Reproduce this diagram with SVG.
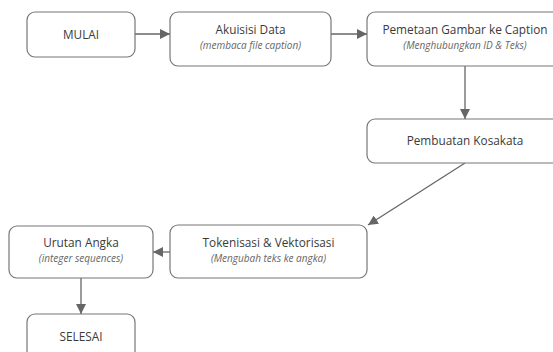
<svg xmlns="http://www.w3.org/2000/svg" width="553" height="352" viewBox="0 0 553 352">
<defs>
<marker id="arr" viewBox="0 0 10 10" refX="10" refY="5" markerWidth="10" markerHeight="10" markerUnits="userSpaceOnUse" orient="auto">
<path d="M0,0 L10,5 L0,10 z" fill="#666"/>
</marker>
<style>
.box{fill:#fff;stroke:#777;stroke-width:1.2}
.t{font-family:"Open Sans","Noto Sans",sans-serif;font-size:11.8px;fill:#3a3a3a;text-anchor:middle}
.s{font-family:"Open Sans","Noto Sans",sans-serif;font-size:10px;font-style:italic;fill:#666;text-anchor:middle}
.c{fill:none;stroke:#666;stroke-width:1.3;marker-end:url(#arr)}
</style>
</defs>
<rect width="553" height="352" fill="#fff"/>
<g id="connectors">
<line class="c" x1="135" y1="34" x2="170" y2="34"/>
<line class="c" x1="331" y1="34" x2="367" y2="34"/>
<line class="c" x1="465" y1="66" x2="465" y2="119"/>
<line class="c" x1="465" y1="163" x2="368" y2="225"/>
<line class="c" x1="170" y1="252" x2="153" y2="252"/>
<line class="c" x1="81" y1="278" x2="81" y2="314"/>
</g>
<g id="mulai">
<rect class="box" x="27" y="12" width="108" height="45" rx="8"/>
<text class="t" x="81" y="38.5">MULAI</text>
</g>
<g id="akuisisi">
<rect class="box" x="170" y="12" width="161" height="54" rx="8"/>
<text class="t" x="250.5" y="33.5">Akuisisi Data</text>
<text class="s" x="250.5" y="49">(membaca file caption)</text>
</g>
<g id="pemetaan">
<rect class="box" x="367" y="12" width="196" height="54" rx="8"/>
<text class="t" x="465" y="33.5">Pemetaan Gambar ke Caption</text>
<text class="s" x="465" y="49">(Menghubungkan ID &amp; Teks)</text>
</g>
<g id="pembuatan">
<rect class="box" x="367" y="119" width="196" height="44" rx="8"/>
<text class="t" x="465" y="145">Pembuatan Kosakata</text>
</g>
<g id="tokenisasi">
<rect class="box" x="170" y="225" width="197" height="53" rx="8"/>
<text class="t" x="268.5" y="246.5">Tokenisasi &amp; Vektorisasi</text>
<text class="s" x="268.5" y="262">(Mengubah teks ke angka)</text>
</g>
<g id="urutan">
<rect class="box" x="9" y="226" width="144" height="52" rx="8"/>
<text class="t" x="81" y="246.5">Urutan Angka</text>
<text class="s" x="81" y="262">(integer sequences)</text>
</g>
<g id="selesai">
<rect class="box" x="27" y="314" width="108" height="45" rx="8"/>
<text class="t" x="81" y="340.5">SELESAI</text>
</g>
</svg>
